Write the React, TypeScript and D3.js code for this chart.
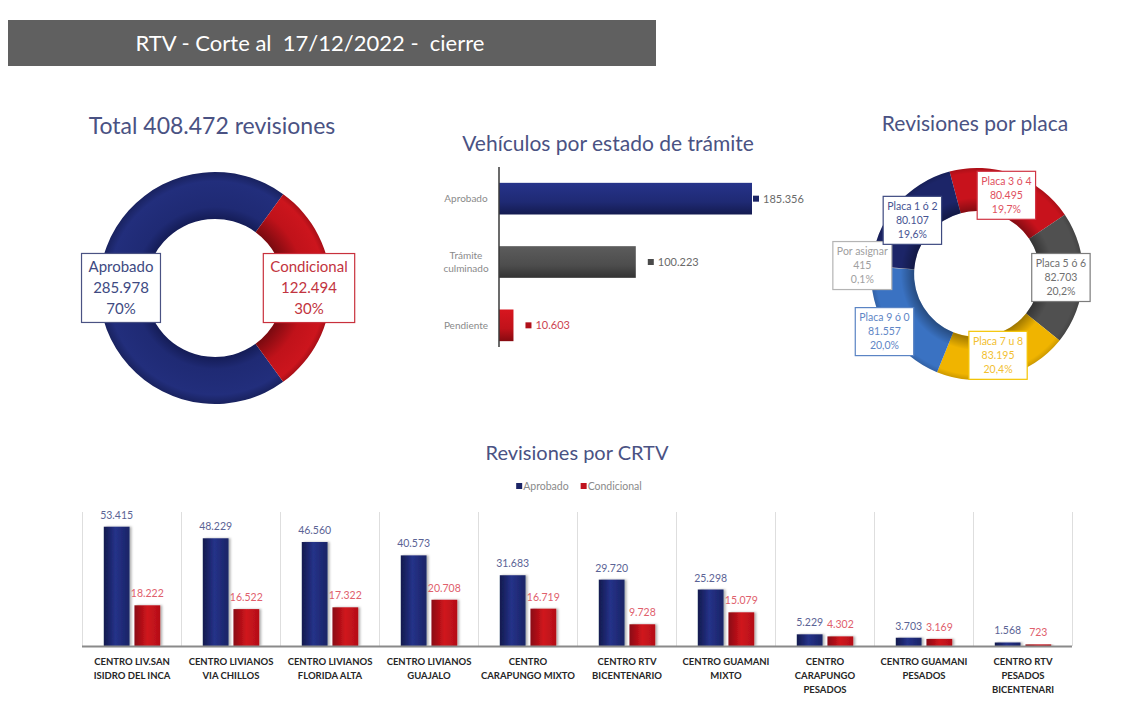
import React, { useEffect, useRef } from 'react';
import * as d3 from 'd3';

const FONT = 'Lato, "Open Sans", "DejaVu Sans", sans-serif';

// ---------- DATA ----------
const headerTitle = 'RTV - Corte al  17/12/2022 -  cierre';

const totalTitle = 'Total 408.472 revisiones';
const totalCategories = ['Aprobado', 'Condicional'];
const totalValues = [285978, 122494];

const tramiteTitle = 'Vehículos por estado de trámite';
const tramiteCategories = ['Aprobado', 'Trámite culminado', 'Pendiente'];
const tramiteLabelLines = [['Aprobado'], ['Trámite', 'culminado'], ['Pendiente']];
const tramiteValues = [185356, 100223, 10603];

const placaTitle = 'Revisiones por placa';
const placaCategories = ['Placa 3 ó 4', 'Placa 5 ó 6', 'Placa 7 u 8', 'Placa 9 ó 0', 'Por asignar', 'Placa 1 ó 2'];
const placaValues = [80495, 82703, 83195, 81557, 415, 80107];

const crtvTitle = 'Revisiones por CRTV';
const crtvSeries = ['Aprobado', 'Condicional'];
const crtvCategories = [
  ['CENTRO LIV.SAN', 'ISIDRO DEL INCA'],
  ['CENTRO LIVIANOS', 'VIA CHILLOS'],
  ['CENTRO LIVIANOS', 'FLORIDA ALTA'],
  ['CENTRO LIVIANOS', 'GUAJALO'],
  ['CENTRO', 'CARAPUNGO MIXTO'],
  ['CENTRO RTV', 'BICENTENARIO'],
  ['CENTRO GUAMANI', 'MIXTO'],
  ['CENTRO', 'CARAPUNGO', 'PESADOS'],
  ['CENTRO GUAMANI', 'PESADOS'],
  ['CENTRO RTV', 'PESADOS', 'BICENTENARI'],
];
const crtvAprobado = [53415, 48229, 46560, 40573, 31683, 29720, 25298, 5229, 3703, 1568];
const crtvCondicional = [18222, 16522, 17322, 20708, 16719, 9728, 15079, 4302, 3169, 723];

// ---------- STYLES ----------
const TITLE_COLOR = '#4a5283';
const totalFill = ['url(#ringNavy)', 'url(#ringRed)'];
const totalText = ['#404a82', '#c23440'];
const totalBorder = ['#4a5283', '#c8303c'];

const tramiteFill = ['url(#barNavyH)', 'url(#barGrayH)', 'url(#barRedH)'];
const tramiteKey = ['#1c2566', '#4a4a4a', '#b0101a'];
const tramiteValueColor = ['#6a6a6a', '#6a6a6a', '#cc4450'];

const placaFill = ['#c8121c', '#505050', '#f0b400', '#3a72c2', '#9a9a9a', '#1c2568'];
const placaText = ['#e0505e', '#707070', '#f2c030', '#5f86c6', '#a0a0a0', '#465392'];
const placaBorder = ['#d03444', '#7c7c7c', '#f4c400', '#5a84c4', '#b4b4b4', '#3e4a80'];

const crtvFill = ['url(#barNavyV)', 'url(#barRedV)'];
const crtvValueColor = ['#5b6395', '#e0606c'];
const crtvKey = ['#1c2566', '#c0121c'];

const esLocale = d3.formatLocale({ decimal: ',', thousands: '.', grouping: [3], currency: ['', ''] });
const fmtInt = esLocale.format(',d');
const fmtPct0 = esLocale.format('.0%');
const fmtPct1 = esLocale.format('.1%');

const deg = Math.PI / 180;

function addBoxLabel(
  parent: d3.Selection<SVGGElement, unknown, null, undefined>,
  cx: number,
  cy: number,
  lines: string[],
  fontSize: number,
  lineH: number,
  textColor: string,
  borderColor: string,
  padX: number,
  padY: number
) {
  const g = parent.append('g');
  const rect = g.append('rect');
  const total = lines.length * lineH;
  let maxW = 0;
  lines.forEach((t, i) => {
    const tx = g
      .append('text')
      .attr('x', cx)
      .attr('y', cy - total / 2 + lineH * (i + 0.5))
      .attr('dy', '0.35em')
      .attr('text-anchor', 'middle')
      .attr('font-family', FONT)
      .attr('font-size', fontSize)
      .attr('fill', textColor)
      .text(t);
    const w = (tx.node() as SVGTextElement).getComputedTextLength();
    if (w > maxW) maxW = w;
  });
  const w = maxW + padX * 2;
  const h = total + padY * 2;
  rect
    .attr('x', cx - w / 2)
    .attr('y', cy - h / 2)
    .attr('width', w)
    .attr('height', h)
    .attr('fill', '#ffffff')
    .attr('stroke', borderColor)
    .attr('stroke-width', 1.2);
}

export default function App() {
  const ref = useRef<SVGSVGElement | null>(null);

  useEffect(() => {
    const svg = d3.select(ref.current as SVGSVGElement);
    svg.selectAll('*').remove();

    // ----- defs -----
    const defs = svg.append('defs');
    const lin = (id: string, stops: [number, string][], vertical = false) => {
      const g = defs
        .append('linearGradient')
        .attr('id', id)
        .attr('x1', 0)
        .attr('y1', 0)
        .attr('x2', vertical ? 0 : 1)
        .attr('y2', vertical ? 1 : 0);
      stops.forEach(([o, c]) => g.append('stop').attr('offset', o).attr('stop-color', c));
    };
    lin('barNavyH', [[0, '#26338a'], [0.6, '#1f2a74'], [1, '#141b50']], true);
    lin('barGrayH', [[0, '#5c5c5c'], [0.6, '#4d4d4d'], [1, '#333333']], true);
    lin('barRedH', [[0, '#d8161f'], [0.6, '#c0121a'], [1, '#860a10']], true);
    lin('barNavyV', [[0, '#131a4e'], [0.45, '#253289'], [1, '#1a2466']]);
    lin('barRedV', [[0, '#8a0b11'], [0.5, '#d0141d'], [1, '#b41018']]);

    const rad = (id: string, stops: [number, string][], r: number) => {
      const g = defs
        .append('radialGradient')
        .attr('id', id)
        .attr('gradientUnits', 'userSpaceOnUse')
        .attr('cx', 0)
        .attr('cy', 0)
        .attr('r', r);
      stops.forEach(([o, c]) => g.append('stop').attr('offset', o).attr('stop-color', c));
    };
    rad('ringNavy', [[0.6, '#151d58'], [0.7, '#1f2a74'], [0.92, '#222e7c'], [1, '#19225f']], 116);
    rad('ringRed', [[0.6, '#7c0a10'], [0.78, '#c0121a'], [0.95, '#cc151d'], [1, '#a80f17']], 116);

    const shadow = defs.append('filter').attr('id', 'shadow').attr('x', '-20%').attr('y', '-20%').attr('width', '160%').attr('height', '140%');
    shadow.append('feDropShadow').attr('dx', 2).attr('dy', 0).attr('stdDeviation', 1).attr('flood-color', '#000').attr('flood-opacity', 0.3);

    // ----- header -----
    svg.append('rect').attr('x', 8).attr('y', 20).attr('width', 648).attr('height', 46).attr('fill', '#606060');
    svg
      .append('text')
      .attr('x', 310)
      .attr('y', 43)
      .attr('dy', '0.35em')
      .attr('text-anchor', 'middle')
      .attr('font-family', FONT)
      .attr('font-size', 22)
      .attr('fill', '#ffffff')
      .style('white-space', 'pre')
      .text(headerTitle);

    const title = (x: number, y: number, t: string, size: number) =>
      svg
        .append('text')
        .attr('x', x)
        .attr('y', y)
        .attr('dy', '0.35em')
        .attr('text-anchor', 'middle')
        .attr('font-family', FONT)
        .attr('font-size', size)
        .attr('fill', TITLE_COLOR)
        .text(t);

    // ----- left donut -----
    title(212, 126, totalTitle, 23);
    {
      const g = svg.append('g').attr('transform', 'translate(215,288)');
      const pie = d3
        .pie<number>()
        .sort(null)
        .startAngle(144 * deg)
        .endAngle(144 * deg + 2 * Math.PI);
      const arcs = pie(totalValues);
      const arc = d3.arc<d3.PieArcDatum<number>>().innerRadius(69).outerRadius(116);
      g.selectAll('path.s')
        .data(arcs)
        .join('path')
        .attr('class', 's')
        .attr('d', arc)
        .attr('fill', (_d, i) => totalFill[i]);
      const sum = d3.sum(totalValues);
      arcs.forEach((a, i) => {
        const mid = (a.startAngle + a.endAngle) / 2;
        const r = 94;
        addBoxLabel(
          g,
          Math.sin(mid) * r,
          -Math.cos(mid) * r,
          [totalCategories[i], fmtInt(totalValues[i]), fmtPct0(totalValues[i] / sum)],
          15,
          21,
          totalText[i],
          totalBorder[i],
          7,
          3
        );
      });
    }

    // ----- middle horizontal bars -----
    title(608, 144, tramiteTitle, 21);
    {
      const axisX = 499;
      const x = d3.scaleLinear().domain([0, d3.max(tramiteValues) as number]).range([axisX, 752]);
      const y = d3.scaleBand<string>().domain(tramiteCategories).range([167, 357]).padding(0.5).paddingOuter(0.25);
      const g = svg.append('g');
      tramiteCategories.forEach((c, i) => {
        const by = y(c) as number;
        g.append('rect')
          .attr('x', axisX)
          .attr('y', by)
          .attr('width', x(tramiteValues[i]) - axisX)
          .attr('height', y.bandwidth())
          .attr('fill', tramiteFill[i]);
        const cy = by + y.bandwidth() / 2;
        const lines = tramiteLabelLines[i];
        lines.forEach((t, j) => {
          g.append('text')
            .attr('x', axisX - 33)
            .attr('y', cy + (j - (lines.length - 1) / 2) * 13)
            .attr('dy', '0.35em')
            .attr('text-anchor', 'middle')
            .attr('font-family', FONT)
            .attr('font-size', 10)
            .attr('fill', '#8a8a8a')
            .text(t);
        });
        const kx = Math.min(x(tramiteValues[i]) + 12, x.range()[1] + 1);
        g.append('rect').attr('x', kx).attr('y', cy - 3).attr('width', 6).attr('height', 6).attr('fill', tramiteKey[i]);
        g.append('text')
          .attr('x', kx + 10)
          .attr('y', cy)
          .attr('dy', '0.35em')
          .attr('font-family', FONT)
          .attr('font-size', 11)
          .attr('fill', tramiteValueColor[i])
          .text(fmtInt(tramiteValues[i]));
      });
      g.append('line')
        .attr('x1', axisX)
        .attr('x2', axisX)
        .attr('y1', 167)
        .attr('y2', 347)
        .attr('stroke', '#3a3a3a')
        .attr('stroke-width', 1.5);
    }

    // ----- right donut -----
    title(975, 124, placaTitle, 21);
    {
      const g = svg.append('g').attr('transform', 'translate(977,274)');
      const pie = d3
        .pie<number>()
        .sort(null)
        .startAngle(-15 * deg)
        .endAngle(-15 * deg + 2 * Math.PI);
      const arcs = pie(placaValues);
      const arc = d3.arc<d3.PieArcDatum<number>>().innerRadius(63).outerRadius(106);
      g.selectAll('path.s')
        .data(arcs)
        .join('path')
        .attr('class', 's')
        .attr('d', arc)
        .attr('fill', (_d, i) => placaFill[i]);
      defs
        .append('radialGradient')
        .attr('id', 'ringShade')
        .attr('gradientUnits', 'userSpaceOnUse')
        .attr('cx', 0)
        .attr('cy', 0)
        .attr('r', 106)
        .call((s) => {
          s.append('stop').attr('offset', 0.59).attr('stop-color', '#000').attr('stop-opacity', 0.35);
          s.append('stop').attr('offset', 0.72).attr('stop-color', '#000').attr('stop-opacity', 0);
          s.append('stop').attr('offset', 0.95).attr('stop-color', '#000').attr('stop-opacity', 0);
          s.append('stop').attr('offset', 1).attr('stop-color', '#000').attr('stop-opacity', 0.15);
        });
      g.append('path')
        .attr('d', d3.arc()({ innerRadius: 63, outerRadius: 106, startAngle: 0, endAngle: 2 * Math.PI }) as string)
        .attr('fill', 'url(#ringShade)');
      const sum = d3.sum(placaValues);
      const labelR: Record<string, number> = { 'Placa 9 ó 0': 109, 'Por asignar': 115 };
      arcs.forEach((a, i) => {
        const mid = (a.startAngle + a.endAngle) / 2;
        const r = labelR[placaCategories[i]] ?? 84;
        addBoxLabel(
          g,
          Math.sin(mid) * r,
          -Math.cos(mid) * r,
          [placaCategories[i], fmtInt(placaValues[i]), fmtPct1(placaValues[i] / sum)],
          10.5,
          14,
          placaText[i],
          placaBorder[i],
          4,
          3
        );
      });
    }

    // ----- bottom grouped bars -----
    title(577, 453, crtvTitle, 20);
    {
      const idx = crtvCategories.map((_c, i) => String(i));
      const x0 = d3.scaleBand<string>().domain(idx).range([82.5, 1072.5]);
      const bw = x0.bandwidth();
      const x1 = d3.scaleBand<string>().domain(crtvSeries).range([bw * 0.215, bw * 0.785]).paddingInner(0.16);
      const y = d3.scaleLinear().domain([0, 60000]).range([646, 512]);
      const g = svg.append('g');
      d3.range(idx.length + 1).forEach((k) => {
        const xx = 82.5 + k * bw;
        g.append('line')
          .attr('x1', xx)
          .attr('x2', xx)
          .attr('y1', y(60000))
          .attr('y2', y(0))
          .attr('stroke', '#dedede')
          .attr('stroke-width', 1);
      });
      const seriesVals = [crtvAprobado, crtvCondicional];
      idx.forEach((c, i) => {
        const gx = x0(c) as number;
        crtvSeries.forEach((s, si) => {
          const v = seriesVals[si][i];
          const bx = gx + (x1(s) as number);
          g.append('rect')
            .attr('x', bx)
            .attr('y', y(v))
            .attr('width', x1.bandwidth())
            .attr('height', y(0) - y(v))
            .attr('fill', crtvFill[si])
            .attr('filter', 'url(#shadow)');
          g.append('text')
            .attr('x', bx + x1.bandwidth() / 2)
            .attr('y', y(v) - 8)
            .attr('text-anchor', 'middle')
            .attr('font-family', FONT)
            .attr('font-size', 10.5)
            .attr('fill', crtvValueColor[si])
            .text(fmtInt(v));
        });
        crtvCategories[i].forEach((t, j) => {
          g.append('text')
            .attr('x', gx + bw / 2)
            .attr('y', 665 + j * 14)
            .attr('text-anchor', 'middle')
            .attr('font-family', FONT)
            .attr('font-weight', 700)
            .attr('font-size', 9.5)
            .attr('fill', '#262626')
            .text(t);
        });
      });
      g.append('line')
        .attr('x1', 82)
        .attr('x2', 1072)
        .attr('y1', y(0) + 0.5)
        .attr('y2', y(0) + 0.5)
        .attr('stroke', '#8a8a8a')
        .attr('stroke-width', 2);

      const lg = svg.append('g');
      let cx = 0;
      crtvSeries.forEach((s, si) => {
        lg.append('rect').attr('x', cx).attr('y', -3).attr('width', 6).attr('height', 6).attr('fill', crtvKey[si]);
        const t = lg
          .append('text')
          .attr('x', cx + 7)
          .attr('y', 0)
          .attr('dy', '0.35em')
          .attr('font-family', FONT)
          .attr('font-size', 10.5)
          .attr('fill', '#8a8a8a')
          .text(s);
        cx += 7 + (t.node() as SVGTextElement).getComputedTextLength() + 12;
      });
      const lw = cx - 12;
      lg.attr('transform', `translate(${579 - lw / 2},486)`);
    }
  }, []);

  return (
    <svg
      ref={ref}
      width={1122}
      height={702}
      style={{ position: 'absolute', left: 0, top: 0, display: 'block', background: '#ffffff' }}
    />
  );
}
